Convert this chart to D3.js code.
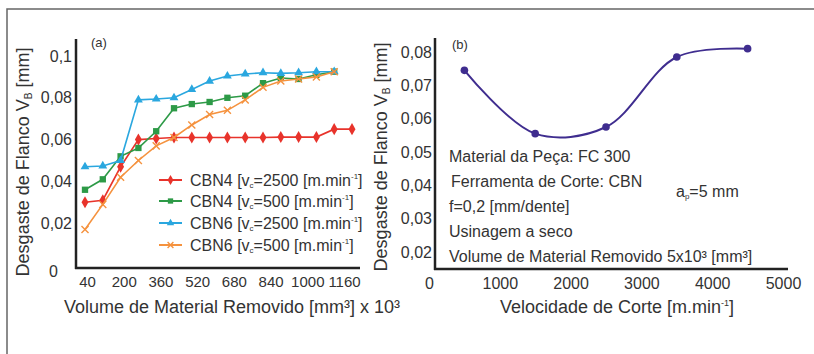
<!DOCTYPE html>
<html>
<head>
<meta charset="utf-8">
<script src="https://cdn.jsdelivr.net/npm/d3@7"></script>
<style>
    body { margin: 0; background: #fff; }
    text { font-family: "Liberation Sans", Arial, sans-serif; fill: #333; }
</style>
</head>
<body>
<script>
// (a) flank wear vs removed volume
var volume = [40, 120, 200, 280, 360, 440, 520, 600, 680, 760, 840, 920, 1000, 1080, 1160, 1240];
var cbn4v2500 = [0.030, 0.031, 0.047, 0.060, 0.0605, 0.061, 0.061, 0.061, 0.061, 0.061, 0.061, 0.0612, 0.0612, 0.0612, 0.065, 0.065];
var cbn4v500 = [0.036, 0.041, 0.052, 0.056, 0.064, 0.075, 0.077, 0.078, 0.080, 0.081, 0.087, 0.0895, 0.089, 0.091, 0.0925];
var cbn6v2500 = [0.047, 0.0474, 0.050, 0.079, 0.0794, 0.080, 0.084, 0.088, 0.0904, 0.0914, 0.092, 0.0917, 0.092, 0.0925, 0.0925];
var cbn6v500 = [0.017, 0.029, 0.042, 0.050, 0.057, 0.061, 0.067, 0.072, 0.074, 0.079, 0.085, 0.088, 0.089, 0.090, 0.0925];
var volumeTicks = [40, 200, 360, 520, 680, 840, 1000, 1160];
var wearTicksA = [0, 0.02, 0.04, 0.06, 0.08, 0.1];
var seriesTool = ["CBN4", "CBN4", "CBN6", "CBN6"];
var seriesSpeed = ["2500", "500", "2500", "500"];

// (b) flank wear vs cutting speed
var speed = [500, 1500, 2500, 3500, 4500];
var wearB = [0.0745, 0.0555, 0.0575, 0.0785, 0.081];
var speedTicks = [0, 1000, 2000, 3000, 4000, 5000];
var wearTicksB = [0.02, 0.03, 0.04, 0.05, 0.06, 0.07, 0.08];

var w = 814;
var h = 354;

var svg = d3.select("body")
    .append("svg")
    .attr("width", w)
    .attr("height", h);

// outer frame
svg.append("rect")
    .attr("x", 7).attr("y", 9)
    .attr("width", 840).attr("height", 420)
    .attr("fill", "none")
    .attr("stroke", "#666")
    .attr("stroke-width", 1.5);

function fmt(d) {
    if (d === 0) return "0";
    if (d === 0.1) return "0,1";
    return d3.format(".2f")(d).replace(".", ",");
}

// small helpers for sub / superscripts (dy is more reliable than baseline-shift)
function sub(t, s, size, shift) {
    t.append("tspan").attr("font-size", size).attr("dy", shift).text(s);
}
function back(t, s, shift) {
    t.append("tspan").attr("dy", -shift).text(s);
}

// ---------- chart (a) ----------
var xA = d3.scaleLinear().domain([40, 1240]).range([85, 352]);
var xALabels = d3.scaleLinear().domain([40, 1160]).range([87, 344]);
var yA = d3.scaleLinear().domain([0, 0.1]).range([265, 56]);

var colors = ["#e8332b", "#2d9a47", "#2aa7df", "#f5923e"];
var seriesA = [cbn4v2500, cbn4v500, cbn6v2500, cbn6v500];
var symbols = [d3.symbolDiamond, d3.symbolSquare, d3.symbolTriangle, d3.symbolTimes || d3.symbolCross];
var symSizes = [42, 40, 34, 34];

var gA = svg.append("g");

// y tick labels
var yAxisA = gA.append("g")
    .attr("transform", "translate(72,0)")
    .call(d3.axisLeft(yA).tickValues(wearTicksA).tickSize(0).tickPadding(0).tickFormat(fmt));
yAxisA.select(".domain").remove();
yAxisA.selectAll("text")
    .attr("font-size", 16)
    .attr("fill", "#333");
yAxisA.selectAll(".tick")
    .filter(function (d) { return d === 0; })
    .select("text")
    .attr("x", -14)
    .attr("dy", "0.7em");

// x tick labels
var xAxisA = gA.append("g")
    .attr("transform", "translate(0,276)")
    .call(d3.axisBottom(xALabels).tickValues(volumeTicks).tickSize(0).tickPadding(0).tickFormat(d3.format("d")));
xAxisA.select(".domain").remove();
xAxisA.selectAll("text")
    .attr("font-size", 15)
    .attr("fill", "#333");

// axis lines
gA.append("line").attr("x1", 76).attr("x2", 76).attr("y1", 39).attr("y2", 269)
    .attr("stroke", "#222").attr("stroke-width", 2.5);
gA.append("line").attr("x1", 75).attr("x2", 360).attr("y1", 268).attr("y2", 268)
    .attr("stroke", "#222").attr("stroke-width", 2.5);

// lines and markers
var lineA = d3.line()
    .x(function (d, i) { return xA(volume[i]); })
    .y(function (d) { return yA(d); });

seriesA.forEach(function (s, k) {
    gA.append("path")
        .datum(s)
        .attr("fill", "none")
        .attr("stroke", colors[k])
        .attr("stroke-width", 1.6)
        .attr("d", lineA);

    var isTimes = (k === 3);
    gA.selectAll(".m" + k)
        .data(s)
        .enter()
        .append("path")
        .attr("class", "m" + k)
        .attr("transform", function (d, i) {
            return "translate(" + xA(volume[i]) + "," + yA(d) + ")" + (isTimes && !d3.symbolTimes ? " rotate(45)" : "");
        })
        .attr("d", d3.symbol().type(symbols[k]).size(symSizes[k]))
        .attr("fill", isTimes ? "none" : colors[k])
        .attr("stroke", isTimes ? colors[k] : "none")
        .attr("stroke-width", 1.4);
});

// legend
var legend = gA.append("g");
var legendY = [180, 201, 223, 245];
seriesTool.forEach(function (tool, k) {
    var ly = legendY[k];
    legend.append("line")
        .attr("x1", 159).attr("x2", 182).attr("y1", ly).attr("y2", ly)
        .attr("stroke", colors[k]).attr("stroke-width", 2);
    legend.append("path")
        .attr("transform", "translate(170.5," + ly + ")" + (k === 3 && !d3.symbolTimes ? " rotate(45)" : ""))
        .attr("d", d3.symbol().type(symbols[k]).size(symSizes[k] * 0.7))
        .attr("fill", k === 3 ? "none" : colors[k])
        .attr("stroke", k === 3 ? colors[k] : "none")
        .attr("stroke-width", 1.4);

    var t = legend.append("text")
        .attr("x", 190)
        .attr("y", ly + 6)
        .attr("font-size", 16);
    t.append("tspan").text(tool + " [v");
    sub(t, "c", 8, 2);
    back(t, "=" + seriesSpeed[k] + " [m.min", 2);
    sub(t, "-1", 8, -7);
    back(t, "]", -7);
});

gA.append("text").attr("x", 91).attr("y", 47).attr("font-size", 13).text("(a)");

// axis titles
var yTitleA = gA.append("text")
    .attr("transform", "translate(29,162) rotate(-90)")
    .attr("text-anchor", "middle")
    .attr("font-size", 18);
yTitleA.append("tspan").text("Desgaste de Flanco V");
sub(yTitleA, "B", 10, 3);
back(yTitleA, " [mm]", 3);

gA.append("text")
    .attr("x", 232).attr("y", 313)
    .attr("text-anchor", "middle")
    .attr("font-size", 18)
    .text("Volume de Material Removido [mm\u00b3] x 10\u00b3");

// ---------- chart (b) ----------
var xB = d3.scaleLinear().domain([0, 5000]).range([429, 783]);
var yB = d3.scaleLinear().domain([0.02, 0.08]).range([252, 52]);

var gB = svg.append("g");

var yAxisB = gB.append("g")
    .attr("transform", "translate(432,0)")
    .call(d3.axisLeft(yB).tickValues(wearTicksB).tickSize(0).tickPadding(0).tickFormat(fmt));
yAxisB.select(".domain").remove();
yAxisB.selectAll("text")
    .attr("font-size", 16)
    .attr("fill", "#333");

var xAxisB = gB.append("g")
    .attr("transform", "translate(0,278)")
    .call(d3.axisBottom(xB).tickValues(speedTicks).tickSize(0).tickPadding(0).tickFormat(d3.format("d")));
xAxisB.select(".domain").remove();
xAxisB.selectAll("text")
    .attr("font-size", 16)
    .attr("fill", "#333");

gB.append("line").attr("x1", 435).attr("x2", 435).attr("y1", 38).attr("y2", 270)
    .attr("stroke", "#222").attr("stroke-width", 2.5);
gB.append("line").attr("x1", 434).attr("x2", 788).attr("y1", 269).attr("y2", 269)
    .attr("stroke", "#222").attr("stroke-width", 2.5);

var lineB = d3.line()
    .x(function (d, i) { return xB(speed[i]); })
    .y(function (d) { return yB(d); })
    .curve(d3.curveCatmullRom.alpha(0.5));

gB.append("path")
    .datum(wearB)
    .attr("fill", "none")
    .attr("stroke", "#3f2d8f")
    .attr("stroke-width", 2)
    .attr("d", lineB);

gB.selectAll(".pt")
    .data(wearB)
    .enter()
    .append("circle")
    .attr("class", "pt")
    .attr("cx", function (d, i) { return xB(speed[i]); })
    .attr("cy", function (d) { return yB(d); })
    .attr("r", 3.8)
    .attr("fill", "#3f2d8f");

gB.append("text").attr("x", 452).attr("y", 49).attr("font-size", 13).text("(b)");

// notes
var notes = ["Material da Pe\u00e7a: FC 300", "Ferramenta de Corte: CBN", "f=0,2 [mm/dente]",
    "Usinagem a seco", "Volume de Material Removido 5x10\u00b3 [mm\u00b3]"];
var noteX = [449, 451, 449, 449, 449];
notes.forEach(function (n, i) {
    gB.append("text")
        .attr("x", noteX[i])
        .attr("y", 162 + i * 25)
        .attr("font-size", 16)
        .text(n);
});
var ap = gB.append("text").attr("x", 676).attr("y", 197).attr("font-size", 16);
ap.append("tspan").text("a");
sub(ap, "p", 8, 2);
back(ap, "=5 mm", 2);

var yTitleB = gB.append("text")
    .attr("transform", "translate(387,157) rotate(-90)")
    .attr("text-anchor", "middle")
    .attr("font-size", 18);
yTitleB.append("tspan").text("Desgaste de Flanco V");
sub(yTitleB, "B", 10, 3);
back(yTitleB, " [mm]", 3);

var xTitleB = gB.append("text")
    .attr("x", 617).attr("y", 313)
    .attr("text-anchor", "middle")
    .attr("font-size", 18);
xTitleB.append("tspan").text("Velocidade de Corte [m.min");
sub(xTitleB, "-1", 9, -7);
back(xTitleB, "]", -7);
</script>
</body>
</html>
